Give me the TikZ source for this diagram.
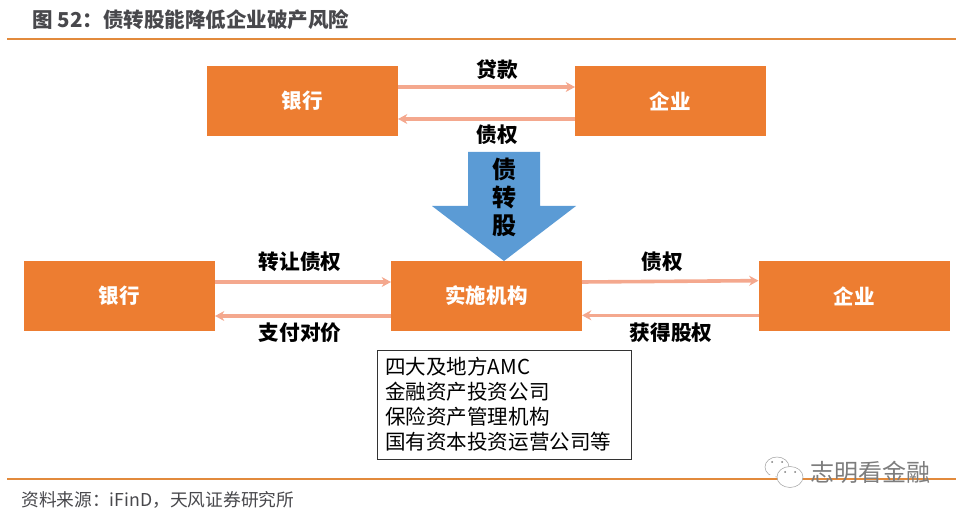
\documentclass[tikz,border=0pt]{standalone}
\usepackage{fontspec}
\setmainfont{Noto Sans CJK SC}
\definecolor{boxorange}{RGB}{237,125,49}
\definecolor{linkpink}{RGB}{244,168,142}
\definecolor{rulegold}{RGB}{226,138,60}
\definecolor{flowblue}{RGB}{91,155,213}
\definecolor{titlegray}{RGB}{72,72,76}
\definecolor{markgray}{RGB}{125,125,125}
\usetikzlibrary{positioning,arrows.meta}
\tikzset{
  pbox/.style={fill=boxorange,minimum width=143.25pt,minimum height=52.5pt,
               inner sep=0pt,outer sep=0pt,text=white,font=\fontsize{15.4}{15.4}\selectfont\bfseries},
  arr/.style={-{Stealth[length=7pt,width=7.5pt]},line width=2.7pt,linkpink},
  lbl/.style={font=\fontsize{15.5}{15.5}\selectfont\bfseries,text=black,inner sep=0pt},
  rulebar/.style={draw=rulegold,line width=1.3pt},
  bubble/.style={draw=markgray!70,line width=0.4pt,fill=white},
}
\begin{document}
\begin{tikzpicture}[x=0.75pt,y=-0.75pt]
  \useasboundingbox (0,0) rectangle (961,516);
  % header and footer
  \coordinate (headl) at (7,39);
  \coordinate (headr) at (956,39);
  \coordinate (footl) at (7,479);
  \coordinate (footr) at (956,479);
  \draw[rulebar] (headl) -- (headr);
  \draw[rulebar] (footl) -- (footr);
  \node[font=\fontsize{15.4}{15.4}\selectfont\bfseries,text=titlegray,anchor=west,inner sep=0pt] (title) at (32,20)
    {图 52：债转股能降低企业破产风险};
  \node[font=\fontsize{13.3}{14}\selectfont,text=titlegray,anchor=west,inner sep=0pt] (source) at (21,500)
    {资料来源：iFinD，天风证券研究所};
  % top row
  \node[pbox] (bank1) at (302.5,101) {银行};
  \node[pbox] (firm1) at (670.5,101) {企业};
  \draw[arr] ([yshift=10.5pt]bank1.east) -- ([yshift=10.5pt]firm1.west);
  \draw[arr] ([yshift=-13.5pt]firm1.west) -- ([yshift=-13.5pt]bank1.east);
  \node[lbl] (loan) at (497,70) {贷款};
  \node[lbl] (debt1) at (497,135) {债权};
  % block arrow
  \fill[flowblue] (468,152) -- (540,152) -- (540,206) -- (576,206)
    -- (504,261) -- (432,206) -- (468,206) -- cycle;
  \node[font=\fontsize{18}{21}\selectfont\bfseries,align=center,inner sep=0pt] (swap) at (504,197)
    {债\\转\\股};
  % bottom row
  \node[pbox] (bank2) at (119.5,296) {银行};
  \node[pbox] (agent) at (486.5,296) {实施机构};
  \node[pbox] (firm2) at (854,296) {企业};
  \draw[arr] ([yshift=10.5pt]bank2.east) -- ([yshift=10.5pt]agent.west);
  \draw[arr] ([yshift=-15pt]agent.west) -- ([yshift=-15pt]bank2.east);
  \draw[arr] ([yshift=10.5pt]agent.east) -- ([yshift=11.5pt]firm2.west);
  \draw[arr] ([yshift=-14.5pt]firm2.west) -- ([yshift=-14.5pt]agent.east);
  \node[lbl] (transfer) at (300,262) {转让债权};
  \node[lbl] (pay) at (300,333) {支付对价};
  \node[lbl] (debt2) at (662,262) {债权};
  \node[lbl] (equity) at (671,333) {获得股权};
  % list of institutions
  \node[draw=black!80,line width=0.6pt,fill=white,minimum width=190.5pt,minimum height=81.75pt,
        inner sep=0pt,outer sep=0pt,anchor=north west] (listbox) at (377,350) {};
  \node[font=\fontsize{15.4}{18.75}\selectfont,align=left,anchor=west,inner sep=0pt] (listtext)
    at ([xshift=6pt]listbox.west) {四大及地方AMC\\金融资产投资公司\\保险资产管理机构\\国有资本投资运营公司等};
  % watermark
  \draw[bubble] (777,467) ellipse (12 and 10);
  \fill[white] (766,478) -- (772,474) -- (776,477) -- cycle;
  \draw[bubble] (790,477) ellipse (13 and 10.5);
  \fill[markgray] (772,462) circle (1) (782,462) circle (1) (785,472) circle (1) (795,472) circle (1);
  \node[font=\fontsize{18}{18}\selectfont,text=markgray,anchor=west,inner sep=0pt] (mark) at (810,472) {志明看金融};
\end{tikzpicture}
\end{document}
